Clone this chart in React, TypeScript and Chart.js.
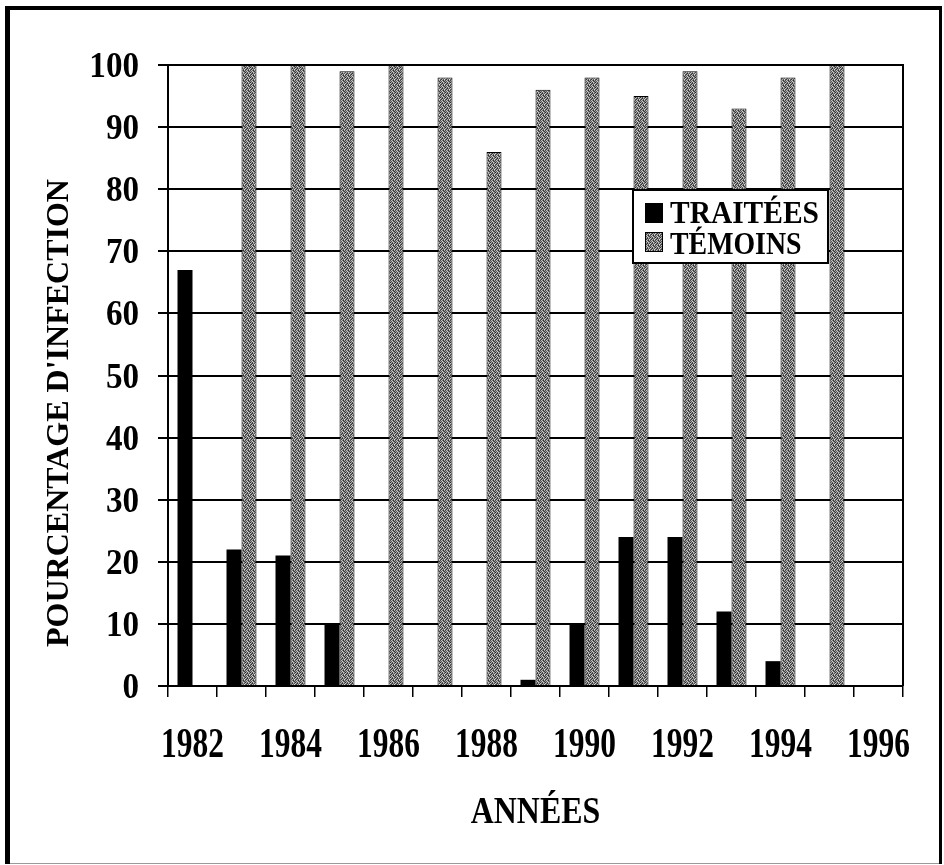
import { useEffect, useRef } from "react";
import { Chart, registerables } from "chart.js";

Chart.register(...registerables);

// ---------- data ----------
const categories = ["1982", "1983", "1984", "1985", "1986", "1987", "1988", "1989", "1990", "1991", "1992", "1993", "1994", "1995", "1996"];
const traitees: (number | null)[] = [67, 22, 21, 10, 0, 0, 0, 1, 10, 24, 24, 12, 4, 0, null];
const temoins: (number | null)[] = [null, 100, 100, 99, 100, 98, 86, 96, 98, 95, 99, 93, 98, 100, null];
const xTickLabels = ["1982", "1984", "1986", "1988", "1990", "1992", "1994", "1996"];
const yTickValues = [0, 10, 20, 30, 40, 50, 60, 70, 80, 90, 100];
const seriesNames = ["TRAITÉES", "TÉMOINS"];
const yTitle = "POURCENTAGE D'INFECTION";
const xTitle = "ANNÉES";

// fixed stipple tile for the grey (témoins) bars
const stippleTile = [
  [70, 190, 120, 40, 170],
  [150, 90, 210, 110, 60],
  [40, 170, 80, 200, 130],
  [200, 110, 50, 150, 80],
  [100, 60, 180, 90, 220],
];

const FONT = '"Liberation Serif", "Times New Roman", serif';

function makePattern(ctx: CanvasRenderingContext2D): CanvasPattern | string {
  const c = document.createElement("canvas");
  const n = stippleTile.length;
  c.width = n;
  c.height = n;
  const t = c.getContext("2d");
  if (!t) return "#7c7c7c";
  for (let r = 0; r < n; r++) {
    for (let k = 0; k < n; k++) {
      const v = stippleTile[r][k];
      t.fillStyle = `rgb(${v},${v},${v})`;
      t.fillRect(k, r, 1, 1);
    }
  }
  return ctx.createPattern(c, "repeat") || "#7c7c7c";
}

function txt(
  ctx: CanvasRenderingContext2D,
  s: string,
  x: number,
  y: number,
  size: number,
  sx: number,
  align: CanvasTextAlign,
  rot = 0,
  spacing = 0
) {
  ctx.save();
  ctx.translate(x, y);
  if (rot) ctx.rotate(rot);
  ctx.scale(sx, 1);
  ctx.font = `bold ${size}px ${FONT}`;
  (ctx as any).letterSpacing = `${spacing}px`;
  ctx.textAlign = align;
  ctx.textBaseline = "alphabetic";
  ctx.fillStyle = "#000";
  ctx.fillText(s, spacing && align === "center" ? spacing / 2 : 0, 0);
  ctx.restore();
}

export default function App() {
  const ref = useRef<HTMLCanvasElement | null>(null);

  useEffect(() => {
    const canvas = ref.current;
    if (!canvas) return;
    const ctx0 = canvas.getContext("2d");
    if (!ctx0) return;
    const pattern = makePattern(ctx0);

    const decor = {
      id: "decor",
      beforeDraw(chart: any) {
        const ctx: CanvasRenderingContext2D = chart.ctx;
        ctx.save();
        ctx.fillStyle = "#fff";
        ctx.fillRect(0, 0, chart.width, chart.height);
        // outer frame
        ctx.fillStyle = "#000";
        ctx.fillRect(5, 6, 5, 858);
        ctx.fillRect(5, 6, 937, 4);
        ctx.fillRect(939, 6, 3, 858);
        ctx.fillStyle = "#9a9a9a";
        ctx.fillRect(10, 863, 929, 1);
        ctx.restore();
      },
      afterDraw(chart: any) {
        const ctx: CanvasRenderingContext2D = chart.ctx;
        const area = chart.chartArea;
        const xs = chart.scales.x;
        const ys = chart.scales.y;

        // right border of plot
        ctx.save();
        ctx.strokeStyle = "#000";
        ctx.lineWidth = 2;
        ctx.beginPath();
        ctx.moveTo(area.right, area.top - 1);
        ctx.lineTo(area.right, area.bottom);
        ctx.stroke();
        ctx.restore();

        // y tick labels
        yTickValues.forEach((v) => {
          const y = ys.getPixelForValue(v);
          txt(ctx, String(v), 139, y + 12, 36, 0.92, "right");
        });

        // x tick labels
        xTickLabels.forEach((lab) => {
          const i = categories.indexOf(lab);
          const x = xs.getPixelForValue(i);
          txt(ctx, lab, x, 757, 43, 0.73, "center");
        });

        // axis titles
        txt(ctx, xTitle, (area.left + area.right) / 2, 823, 38, 0.84, "center");
        txt(ctx, yTitle, 68, 413, 32, 1, "center", -Math.PI / 2);

        // legend
        ctx.save();
        ctx.fillStyle = "#fff";
        ctx.fillRect(633, 190, 195, 73);
        ctx.strokeStyle = "#000";
        ctx.lineWidth = 2;
        ctx.strokeRect(633, 190, 195, 73);
        ctx.fillStyle = "#000";
        ctx.fillRect(645, 203, 18, 20);
        ctx.fillStyle = pattern as any;
        ctx.fillRect(645, 232, 18, 20);
        ctx.lineWidth = 1;
        ctx.strokeRect(645.5, 232.5, 17, 19);
        ctx.restore();
        txt(ctx, seriesNames[0], 670, 223, 32, 0.92, "left");
        txt(ctx, seriesNames[1], 670, 254, 32, 0.87, "left");
      },
    };

    const chart = new Chart(canvas, {
      type: "bar",
      data: {
        labels: categories,
        datasets: [
          {
            label: seriesNames[0],
            data: traitees,
            backgroundColor: "#000",
            borderWidth: 0,
          },
          {
            label: seriesNames[1],
            data: temoins,
            backgroundColor: pattern as any,
            borderColor: "#000",
            borderWidth: 1,
          },
        ],
      },
      options: {
        responsive: false,
        animation: false,
        devicePixelRatio: 1,
        layout: { padding: { top: 65, right: 41, bottom: 0, left: 0 } },
        datasets: { bar: { categoryPercentage: 0.612, barPercentage: 1 } },
        plugins: {
          legend: { display: false },
          tooltip: { enabled: false },
          title: { display: false },
        },
        scales: {
          x: {
            type: "category",
            offset: true,
            grid: {
              display: true,
              offset: true,
              drawOnChartArea: false,
              drawTicks: true,
              tickLength: 11,
              color: "#000",
              lineWidth: 1.5,
            },
            border: { display: true, color: "#000", width: 2 },
            ticks: { display: false },
            afterFit: (s: any) => {
              s.height = 179;
            },
          },
          y: {
            min: 0,
            max: 100,
            ticks: { display: false, stepSize: 10 },
            grid: { color: "#000", lineWidth: 2, drawTicks: true, tickLength: 10 },
            border: { display: true, color: "#000", width: 2 },
            afterFit: (s: any) => {
              s.width = 168;
            },
          },
        },
      },
      plugins: [decor],
    });

    return () => chart.destroy();
  }, []);

  return (
    <div style={{ position: "fixed", left: 0, top: 0, width: 944, height: 865, background: "#fff" }}>
      <canvas ref={ref} width={944} height={865} style={{ width: 944, height: 865, display: "block" }} />
    </div>
  );
}
